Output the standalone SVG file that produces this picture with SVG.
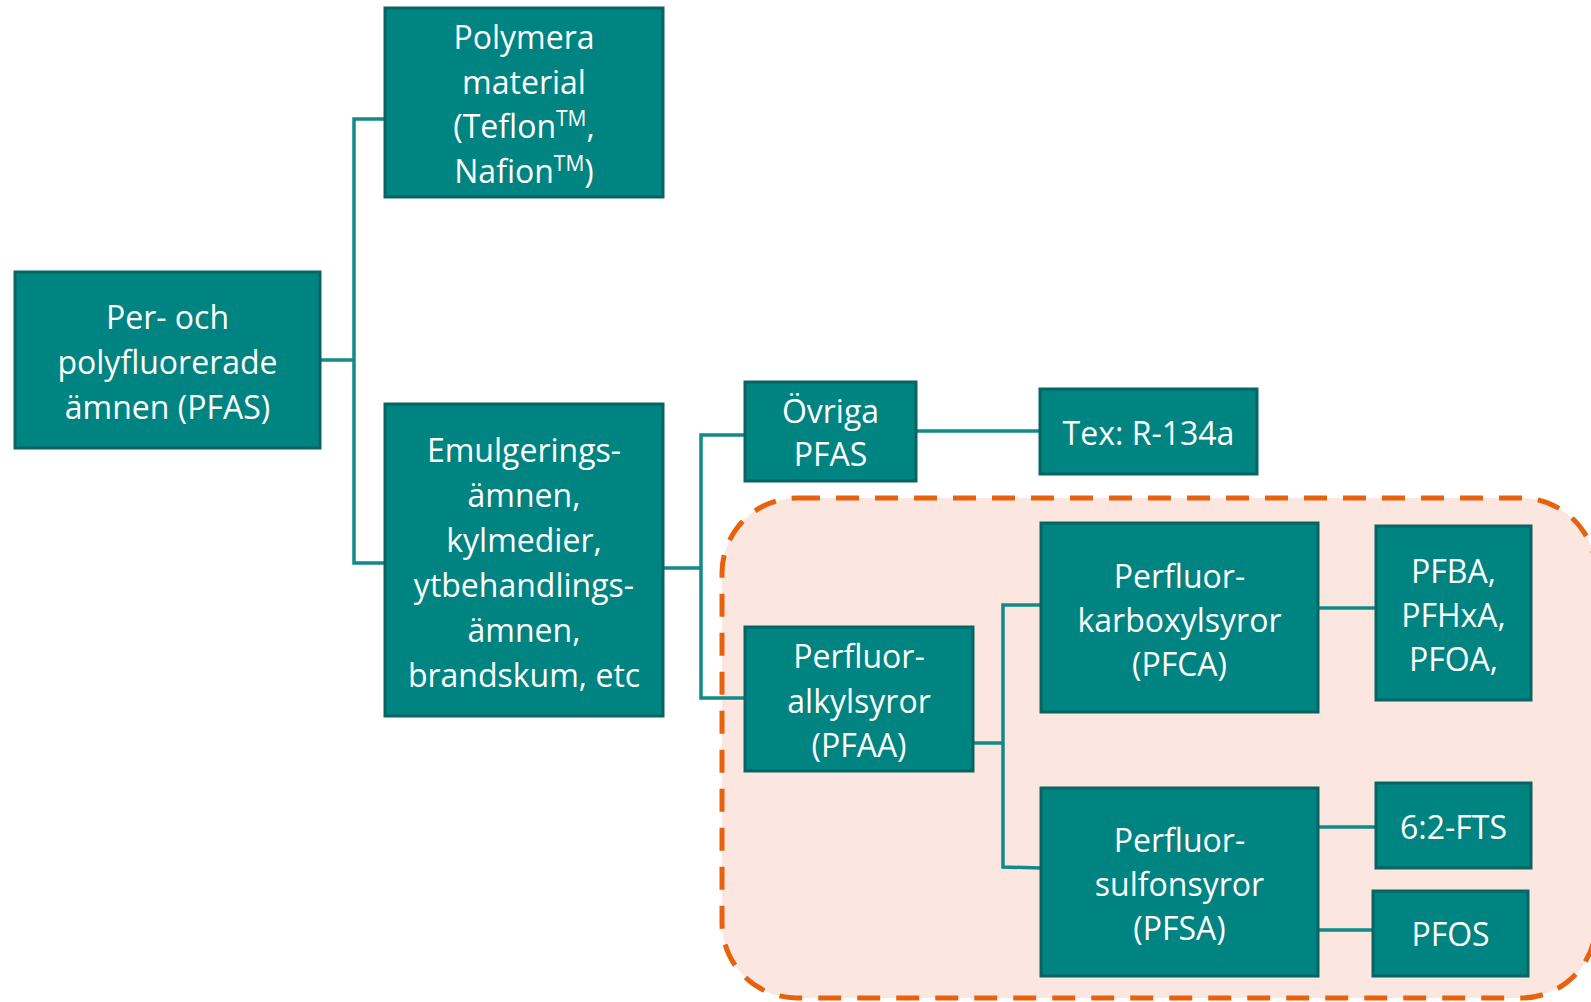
<svg xmlns="http://www.w3.org/2000/svg" width="1591" height="1002" viewBox="0 0 1591 1002">
<style>
.box{fill:#008481;stroke:#066563;stroke-width:3}
.t{font-family:"Open Sans","Liberation Sans",sans-serif;font-size:32px;fill:#ffffff;text-anchor:middle}
.c{fill:none;stroke:#118a88;stroke-width:3.5}
</style>
<rect width="1591" height="1002" fill="#ffffff"/>
<g id="region">
<rect x="722" y="498" width="874" height="500" rx="75" ry="75" fill="#fce6e0" stroke="#e8620e" stroke-width="5" stroke-dasharray="23 16"/>
</g>
<g id="connectors">
<polyline class="c" points="320,360 354,360"/>
<polyline class="c" points="385,119 354,119 354,563 385,563"/>
<polyline class="c" points="663,568 701,568"/>
<polyline class="c" points="745,435 701,435 701,698 745,698"/>
<polyline class="c" points="916,431 1040,431"/>
<polyline class="c" points="973,743 1003,743"/>
<polyline class="c" points="1041,605 1003,605 1003,867 1041,868"/>
<polyline class="c" points="1318,608 1376,608"/>
<polyline class="c" points="1318,827 1376,827"/>
<polyline class="c" points="1318,930 1373,930"/>
</g>
<g id="pfas">
<rect class="box" x="15" y="272" width="305" height="176"/>
<text class="t"><tspan x="167.5" y="329">Per- och</tspan><tspan x="167.5" y="374">polyfluorerade</tspan><tspan x="167.5" y="419">ämnen (PFAS)</tspan></text>
</g>
<g id="polymera">
<rect class="box" x="385" y="8" width="278" height="189"/>
<text class="t"><tspan x="524" y="49">Polymera</tspan><tspan x="524" y="94">material</tspan><tspan x="524" y="138">(Teflon<tspan font-size="21" dy="-12">TM</tspan><tspan dy="12">,</tspan></tspan><tspan x="524" y="183">Nafion<tspan font-size="21" dy="-12">TM</tspan><tspan dy="12">)</tspan></tspan></text>
</g>
<g id="emulgerings">
<rect class="box" x="385" y="404" width="278" height="312"/>
<text class="t"><tspan x="524" y="462">Emulgerings-</tspan><tspan x="524" y="507">ämnen,</tspan><tspan x="524" y="552">kylmedier,</tspan><tspan x="524" y="597">ytbehandlings-</tspan><tspan x="524" y="642">ämnen,</tspan><tspan x="524" y="687">brandskum, etc</tspan></text>
</g>
<g id="ovriga">
<rect class="box" x="745" y="382" width="171" height="99"/>
<text class="t"><tspan x="830.5" y="423">Övriga</tspan><tspan x="830.5" y="466">PFAS</tspan></text>
</g>
<g id="tex">
<rect class="box" x="1040" y="389" width="217" height="85"/>
<text class="t" x="1148.5" y="445">Tex: R-134a</text>
</g>
<g id="pfaa">
<rect class="box" x="745" y="627" width="228" height="144"/>
<text class="t"><tspan x="859" y="668">Perfluor-</tspan><tspan x="859" y="713">alkylsyror</tspan><tspan x="859" y="757">(PFAA)</tspan></text>
</g>
<g id="pfca">
<rect class="box" x="1041" y="523" width="277" height="189"/>
<text class="t"><tspan x="1179.5" y="588">Perfluor-</tspan><tspan x="1179.5" y="632">karboxylsyror</tspan><tspan x="1179.5" y="676">(PFCA)</tspan></text>
</g>
<g id="pfsa">
<rect class="box" x="1041" y="788" width="277" height="188"/>
<text class="t"><tspan x="1179.5" y="852">Perfluor-</tspan><tspan x="1179.5" y="896">sulfonsyror</tspan><tspan x="1179.5" y="940">(PFSA)</tspan></text>
</g>
<g id="pfba">
<rect class="box" x="1376" y="526" width="155" height="174"/>
<text class="t"><tspan x="1453.5" y="583">PFBA,</tspan><tspan x="1453.5" y="627">PFHxA,</tspan><tspan x="1453.5" y="671">PFOA,</tspan></text>
</g>
<g id="fts">
<rect class="box" x="1376" y="783" width="155" height="85"/>
<text class="t" x="1453.5" y="839">6:2-FTS</text>
</g>
<g id="pfos">
<rect class="box" x="1373" y="891" width="155" height="85"/>
<text class="t" x="1450.5" y="946">PFOS</text>
</g>
</svg>
